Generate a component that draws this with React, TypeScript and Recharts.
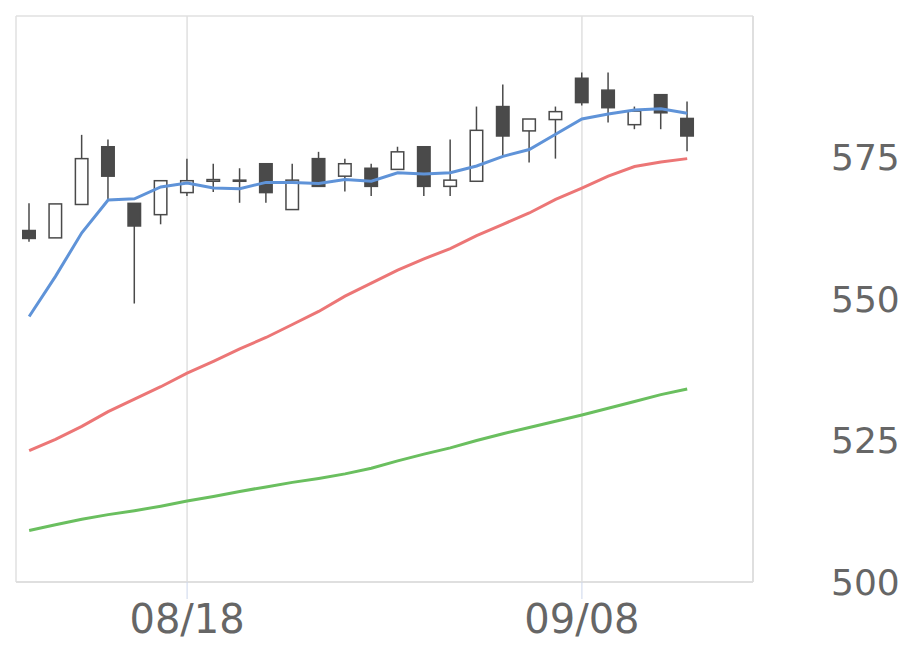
import { ComposedChart, Bar, Line, XAxis, YAxis, CartesianGrid } from "recharts";

const dates = [
  "08/07", "08/08", "08/12", "08/13", "08/14", "08/15", "08/18", "08/19", "08/20", "08/21",
  "08/22", "08/25", "08/26", "08/27", "08/28", "08/29", "09/01", "09/02", "09/03", "09/04",
  "09/05", "09/08", "09/09", "09/10", "09/11", "09/12", "09/16", "09/17",
];

const open = [562.1, 560.8, 566.7, 576.9, 566.9, 564.9, 568.8, 570.8, 570.8, 573.9, 565.8, 574.8, 571.7, 573.1, 572.9, 576.9, 569.9, 570.8, 584.0, 579.7, 581.7, 589.0, 586.9, 580.8, 586.1, 581.9];
const high = [566.9, 566.8, 579.0, 578.2, 566.9, 570.9, 574.8, 573.9, 573.1, 573.9, 573.9, 576.0, 574.8, 573.9, 576.9, 576.9, 578.2, 584.0, 587.9, 581.8, 584.0, 590.0, 590.0, 584.0, 586.1, 584.9];
const low = [560.1, 560.8, 566.7, 567.6, 549.2, 563.2, 568.2, 568.9, 567.0, 567.0, 565.8, 569.9, 569.0, 568.2, 572.9, 568.2, 568.2, 570.8, 575.2, 574.1, 574.8, 584.2, 581.2, 580.0, 580.0, 576.1];
const close = [560.7, 566.8, 574.8, 571.7, 562.9, 570.9, 570.9, 571.1, 571.0, 568.8, 571.0, 569.9, 573.9, 569.9, 576.0, 569.9, 571.0, 579.8, 578.8, 581.8, 583.1, 584.7, 583.8, 583.2, 582.9, 578.8];

const ma5 = [546.9, 554.0, 561.7, 567.5, 567.7, 569.8, 570.5, 569.6, 569.5, 570.6, 570.6, 570.4, 571.1, 570.8, 572.3, 572.1, 572.3, 573.5, 575.2, 576.4, 579.1, 581.8, 582.7, 583.4, 583.6, 582.8];
const ma25 = [523.2, 525.2, 527.5, 530.1, 532.3, 534.5, 536.9, 539.0, 541.2, 543.2, 545.5, 547.8, 550.5, 552.8, 555.1, 557.1, 558.9, 561.2, 563.2, 565.2, 567.6, 569.6, 571.7, 573.4, 574.2, 574.8];
const ma75 = [509.1, 510.1, 511.1, 511.9, 512.6, 513.4, 514.3, 515.1, 516.0, 516.8, 517.6, 518.3, 519.1, 520.1, 521.4, 522.6, 523.7, 525.0, 526.2, 527.3, 528.4, 529.5, 530.7, 531.9, 533.1, 534.1];

const xTicks = ["08/18", "09/08"];
const yTicks = [500, 525, 550, 575, 600];

const data = dates.map((date, i) => ({
  date,
  open: open[i],
  high: high[i],
  low: low[i],
  close: close[i],
  range: high[i] != null ? [low[i], high[i]] : null,
  ma5: ma5[i] ?? null,
  ma25: ma25[i] ?? null,
  ma75: ma75[i] ?? null,
}));

const CANDLE = "#4a4a4a";
const FONT = "'DejaVu Sans', sans-serif";

function Candle(props: any) {
  const { x, y, width, height, payload } = props;
  if (!payload || payload.open == null) return null;
  const top = Math.min(y, y + height);
  const h = Math.abs(height);
  const span = payload.high - payload.low;
  const toPx = (v: number) => top + ((payload.high - v) / span) * h;
  const cx = x + width / 2;
  const oy = toPx(payload.open);
  const cy = toPx(payload.close);
  const bodyTop = Math.min(oy, cy);
  const bodyH = Math.max(Math.abs(oy - cy), 1);
  const up = payload.close >= payload.open;
  return (
    <g>
      <line x1={cx} x2={cx} y1={top} y2={top + h} stroke={CANDLE} strokeWidth={1.5} />
      <rect
        x={x + 0.75}
        y={bodyTop}
        width={width - 1.5}
        height={bodyH}
        fill={up ? "#ffffff" : CANDLE}
        stroke={CANDLE}
        strokeWidth={1.5}
      />
    </g>
  );
}

function YTick(props: any) {
  const { x, y, payload } = props;
  if (payload.value === 600) return null;
  return (
    <text x={x} y={y} dy="0.355em" textAnchor="start" fill="#666" fontSize={36} fontFamily={FONT}>
      {payload.value}
    </text>
  );
}

export default function App() {
  return (
    <div style={{ position: "absolute", left: 0, top: 0 }}>
      <ComposedChart width={920} height={669} data={data} margin={{ top: 16, right: 0, bottom: 0, left: 16 }}>
        <CartesianGrid stroke="#e0e0e0" strokeWidth={1.5} />
        <XAxis
          dataKey="date"
          ticks={xTicks}
          interval={0}
          height={87}
          tickSize={17}
          tickMargin={6}
          axisLine={{ stroke: "#dddddd", strokeWidth: 1.5 }}
          tickLine={{ stroke: "#ccd6eb", strokeWidth: 1 }}
          tick={{ fill: "#666", fontSize: 40, fontFamily: FONT }}
        />
        <YAxis
          yAxisId="l"
          orientation="left"
          width={0}
          domain={[500, 600]}
          tick={false}
          tickLine={false}
          axisLine={{ stroke: "#dddddd", strokeWidth: 1.5 }}
        />
        <YAxis
          yAxisId="r"
          orientation="right"
          width={167}
          domain={[500, 600]}
          ticks={yTicks}
          tickSize={0}
          tickMargin={78}
          tickLine={false}
          axisLine={{ stroke: "#dddddd", strokeWidth: 1.5 }}
          tick={<YTick />}
        />
        <Bar yAxisId="r" dataKey="range" barSize={14} shape={<Candle />} isAnimationActive={false} />
        <Line yAxisId="r" dataKey="ma75" stroke="#6abf5f" strokeWidth={3} dot={false} isAnimationActive={false} />
        <Line yAxisId="r" dataKey="ma25" stroke="#ec7676" strokeWidth={3} dot={false} isAnimationActive={false} />
        <Line yAxisId="r" dataKey="ma5" stroke="#5f93d8" strokeWidth={3} dot={false} isAnimationActive={false} />
      </ComposedChart>
    </div>
  );
}
